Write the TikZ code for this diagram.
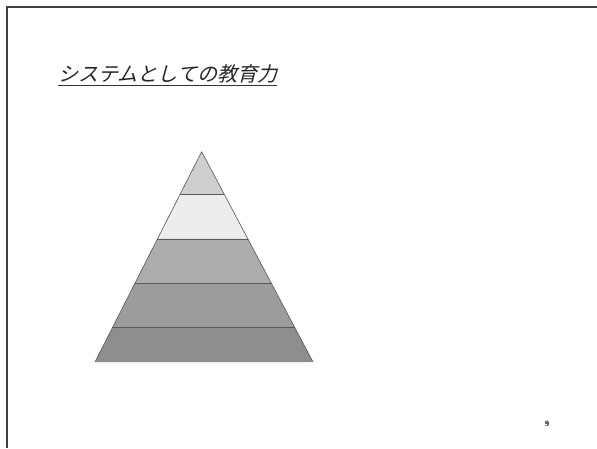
\documentclass[tikz,border=0pt]{standalone}
\usepackage{fontspec}
\newfontfamily\jpfont[FakeSlant=0.25]{Noto Sans CJK JP}
\setmainfont{Liberation Serif}
\usetikzlibrary{calc}
\definecolor{bandA}{HTML}{CFCFCF}
\definecolor{bandB}{HTML}{EDEDED}
\definecolor{bandC}{HTML}{ADADAD}
\definecolor{bandD}{HTML}{9C9C9C}
\definecolor{bandE}{HTML}{8E8E8E}
\definecolor{edge}{HTML}{555555}
\tikzset{
  frameline/.style={line width=1.2pt, draw=black!75},
  band/.style={draw=none},
  sepline/.style={line width=0.9pt, draw=black!65},
  titletext/.style={anchor=base west, inner sep=0pt, font=\jpfont\fontsize{20}{20}\selectfont, text=black!85},
}
\begin{document}
\begin{tikzpicture}[x=1pt,y=-1pt]
\useasboundingbox (0,0) rectangle (597,448);
\fill[white] (0,0) rectangle (597,448);
% frame
\coordinate (ftr) at (597,7);
\coordinate (ftl) at (7,7);
\coordinate (fbl) at (7,448);
\draw[frameline] (ftr) -- (ftl) -- (fbl);
% title
\node[titletext] (title) at (58,81) {システムとしての教育力};
\draw[line width=0.9pt, black!80] ($(title.base west)+(0,4)$) -- ($(title.base east)+(0,4)$);
% pyramid
\coordinate (apex) at (201.7,151.7);
\coordinate (bl) at (95,362);
\coordinate (br) at (313,362);
\foreach \i/\t in {1/0.201,2/0.415,3/0.626,4/0.837}{
  \coordinate (l\i) at ($(apex)!\t!(bl)$);
  \coordinate (r\i) at ($(apex)!\t!(br)$);
}
\fill[bandA] (apex) -- (r1) -- (l1) -- cycle;
\fill[bandB] (l1) -- (r1) -- (r2) -- (l2) -- cycle;
\fill[bandC] (l2) -- (r2) -- (r3) -- (l3) -- cycle;
\fill[bandD] (l3) -- (r3) -- (r4) -- (l4) -- cycle;
\fill[bandE] (l4) -- (r4) -- (br) -- (bl) -- cycle;
\foreach \i in {1,2,3,4}{ \draw[sepline] (l\i) -- (r\i); }
\draw[line width=0.6pt, edge, line join=round] (bl) -- (apex) -- (br);
% page number
\node[inner sep=0pt, font=\fontsize{8}{8}\selectfont\bfseries] (pnum) at (547,424) {9};
\end{tikzpicture}
\end{document}
